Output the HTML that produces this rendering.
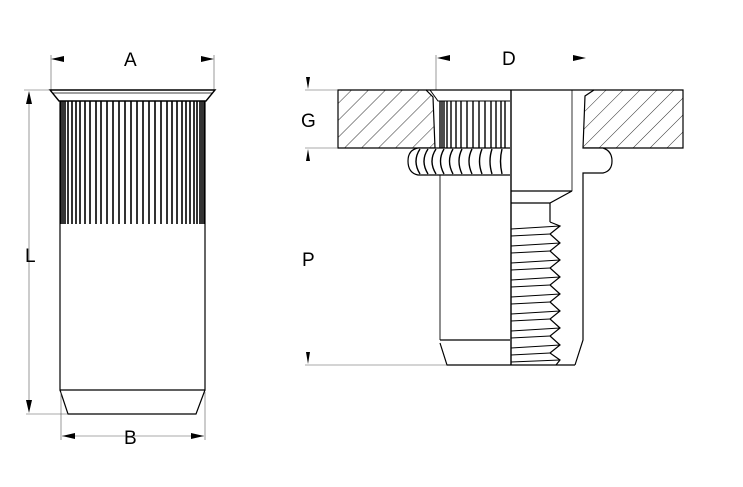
<!DOCTYPE html>
<html><head><meta charset="utf-8"><style>
html,body{margin:0;padding:0;background:#fff;width:743px;height:487px;overflow:hidden}
text{font-family:"Liberation Sans",sans-serif;font-size:19px;fill:#000}
</style></head><body>
<svg width="743" height="487" viewBox="0 0 743 487" xmlns="http://www.w3.org/2000/svg">
<defs>
<pattern id="h" patternUnits="userSpaceOnUse" width="12" height="12" patternTransform="rotate(45)">
<line x1="0" y1="0" x2="0" y2="12" stroke="#000" stroke-width="0.8"/>
</pattern>
</defs>
<g stroke="#000" fill="none">
<!-- LEFT PART -->
<line x1="51" y1="55" x2="51" y2="90" stroke-width="0.6" stroke="#555"/>
<line x1="214" y1="55" x2="214" y2="90" stroke-width="0.6" stroke="#555"/>
<path d="M51,59 L64,56 L64,62z M214,59 L201,56 L201,62z" fill="#000" stroke="none"/>
<path d="M50,90 L215,90 L206,101 L59,101 Z" fill="#fff" stroke-width="1.4"/>
<line x1="52" y1="93" x2="213" y2="93" stroke-width="0.8"/>
<path d="M60,101 L60,390 L205,390 L205,101" stroke-width="1.2"/>
<path d="M60,390 L68,414 L196,414 L205,390" stroke-width="1.2"/>
<g stroke-width="1.6">
<line x1="61" y1="101" x2="61" y2="224"/><line x1="63" y1="101" x2="63" y2="224"/><line x1="65" y1="101" x2="65" y2="224"/>
<line x1="68" y1="101" x2="68" y2="224"/><line x1="72" y1="101" x2="72" y2="224"/><line x1="76" y1="101" x2="76" y2="224"/>
<line x1="80" y1="101" x2="80" y2="224"/><line x1="85" y1="101" x2="85" y2="224"/><line x1="90" y1="101" x2="90" y2="224"/>
<line x1="96" y1="101" x2="96" y2="224"/><line x1="101" y1="101" x2="101" y2="224"/><line x1="107" y1="101" x2="107" y2="224"/>
<line x1="113" y1="101" x2="113" y2="224"/><line x1="119" y1="101" x2="119" y2="224"/><line x1="125" y1="101" x2="125" y2="224"/>
<line x1="131" y1="101" x2="131" y2="224"/><line x1="137" y1="101" x2="137" y2="224"/><line x1="143" y1="101" x2="143" y2="224"/>
<line x1="149" y1="101" x2="149" y2="224"/><line x1="155" y1="101" x2="155" y2="224"/><line x1="161" y1="101" x2="161" y2="224"/>
<line x1="167" y1="101" x2="167" y2="224"/><line x1="172" y1="101" x2="172" y2="224"/><line x1="177" y1="101" x2="177" y2="224"/>
<line x1="182" y1="101" x2="182" y2="224"/><line x1="186" y1="101" x2="186" y2="224"/><line x1="190" y1="101" x2="190" y2="224"/>
<line x1="194" y1="101" x2="194" y2="224"/><line x1="197" y1="101" x2="197" y2="224"/><line x1="200" y1="101" x2="200" y2="224"/>
<line x1="202" y1="101" x2="202" y2="224"/><line x1="204" y1="101" x2="204" y2="224"/>
</g>
<line x1="24" y1="90" x2="50" y2="90" stroke-width="0.6" stroke="#555"/>
<line x1="26" y1="414" x2="68" y2="414" stroke-width="0.6" stroke="#555"/>
<line x1="29" y1="95" x2="29" y2="410" stroke-width="0.6" stroke="#555"/>
<path d="M29,91 L26,104 L32,104z M29,413 L26,400 L32,400z" fill="#000" stroke="none"/>
<line x1="61" y1="392" x2="61" y2="440" stroke-width="0.6" stroke="#555"/>
<line x1="205" y1="392" x2="205" y2="440" stroke-width="0.6" stroke="#555"/>
<line x1="62" y1="436" x2="204" y2="436" stroke-width="0.6" stroke="#555"/>
<path d="M62,436 L75,433 L75,439z M204,436 L191,433 L191,439z" fill="#000" stroke="none"/>

<!-- RIGHT PART -->
<line x1="436" y1="55" x2="436" y2="90" stroke-width="0.6" stroke="#555"/>
<line x1="440" y1="148" x2="440" y2="340" stroke-width="0.6" stroke="#555"/>
<path d="M437,58 L450,55 L450,61z M586,58 L573,55 L573,61z" fill="#000" stroke="none"/>
<path d="M338,90 L426,90 L433,97 L435,148 L338,148 Z" fill="url(#h)" stroke-width="1.2"/>
<path d="M683,90 L594,90 L585,96 L583,148 L683,148 Z" fill="url(#h)" stroke-width="1.2"/>
<line x1="426" y1="90" x2="594" y2="90" stroke-width="1.2"/>
<line x1="305" y1="90" x2="338" y2="90" stroke-width="0.6" stroke="#555"/>
<line x1="305" y1="148" x2="338" y2="148" stroke-width="0.6" stroke="#555"/>
<path d="M308,89 L306,77 L310,77z M308,149 L306,161 L310,161z" fill="#000" stroke="none"/>
<path d="M430,90 L438,101 L510,101" stroke-width="1"/>
<g stroke-width="1.4">
<line x1="440" y1="101" x2="440" y2="148"/><line x1="442" y1="101" x2="442" y2="148"/><line x1="444" y1="101" x2="444" y2="148"/>
<line x1="447" y1="101" x2="447" y2="148"/><line x1="451" y1="101" x2="451" y2="148"/><line x1="456" y1="101" x2="456" y2="148"/>
<line x1="461" y1="101" x2="461" y2="148"/><line x1="467" y1="101" x2="467" y2="148"/><line x1="473" y1="101" x2="473" y2="148"/>
<line x1="479" y1="101" x2="479" y2="148"/><line x1="485" y1="101" x2="485" y2="148"/><line x1="491" y1="101" x2="491" y2="148"/>
<line x1="496" y1="101" x2="496" y2="148"/><line x1="501" y1="101" x2="501" y2="148"/><line x1="505" y1="101" x2="505" y2="148"/>
</g>
<path d="M510,148 L418,148 Q408,150 408,161 Q408,173 418,175 L510,175" fill="#fff" stroke-width="1.2"/>
<g stroke-width="1.4">
<path d="M420,149 Q412,161 420,174"/><path d="M428,149 Q420,161 428,174"/><path d="M436,149 Q428,161 436,174"/>
<path d="M444,149 Q437,161 444,174"/><path d="M453,149 Q446,161 453,174"/><path d="M462,149 Q456,161 462,174"/>
<path d="M472,149 Q466,161 472,174"/><path d="M482,149 Q477,161 482,174"/><path d="M492,149 Q488,161 492,174"/>
<path d="M502,149 Q499,161 502,174"/>
</g>
<line x1="440" y1="175" x2="440" y2="340" stroke-width="0.8"/>
<path d="M440,340 L510,340 M440,343 L447,365 L575,365" stroke-width="1.2"/>
<line x1="511" y1="90" x2="511" y2="365" stroke-width="1.4"/>
<line x1="572" y1="90" x2="572" y2="191" stroke-width="0.8"/>
<path d="M511,191 L572,191 L550,203 L511,203" stroke-width="1.2"/>
<line x1="550" y1="203" x2="550" y2="222" stroke-width="1.2"/>
<path d="M583,148 L603,148 Q612,151 612,161 Q612,171 603,173 L583,173 L583,340 L575,365" fill="#fff" stroke-width="1.2"/>
<!-- thread -->
<path d="M550,222 L560,226 L550,234 L560,243 L550,251 L560,260 L550,268 L560,277 L550,285 L560,294 L550,302 L560,311 L550,319 L560,328 L550,336 L560,345 L550,353 L560,360 L556,365" stroke-width="1.2"/>
<g stroke-width="1.1">
<path d="M511,229 L560,226 M511,236 L550,234"/>
<path d="M511,246 L560,243 M511,253 L550,251"/>
<path d="M511,263 L560,260 M511,270 L550,268"/>
<path d="M511,280 L560,277 M511,287 L550,285"/>
<path d="M511,297 L560,294 M511,304 L550,302"/>
<path d="M511,314 L560,311 M511,321 L550,319"/>
<path d="M511,331 L560,328 M511,338 L550,336"/>
<path d="M511,348 L560,345 M511,355 L550,353"/>
<path d="M511,362 L560,360"/>
</g>
<line x1="305" y1="365" x2="447" y2="365" stroke-width="0.6" stroke="#555"/>
<path d="M308,364 L306,352 L310,352z" fill="#000" stroke="none"/>
</g>
<text x="124" y="66">A</text>
<text x="25" y="262">L</text>
<text x="124" y="444">B</text>
<text x="502" y="65">D</text>
<text x="301" y="127">G</text>
<text x="302" y="266">P</text>
</svg>
</body></html>
